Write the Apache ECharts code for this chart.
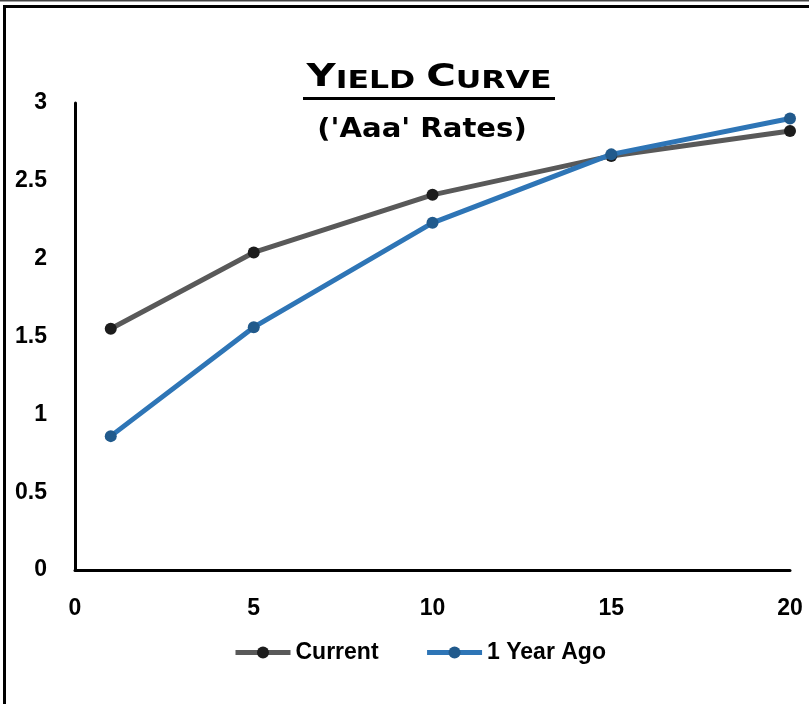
<!DOCTYPE html>
<html>
<head>
<meta charset="utf-8">
<script src="https://cdn.jsdelivr.net/npm/echarts@6/dist/echarts.min.js"></script>
<style>
  html, body { margin: 0; padding: 0; background: #fff; }
  #chart { width: 809px; height: 704px; }
</style>
</head>
<body>
<div id="chart"></div>
<script>
// Maturity (years) on the horizontal axis
const maturities = [1, 5, 10, 15, 20];
// 'Aaa' yields, percent
const currentRates = [1.55, 2.04, 2.41, 2.66, 2.82];
const yearAgoRates = [0.86, 1.56, 2.23, 2.67, 2.90];
const seriesNames = ['Current', '1 Year Ago'];
const titleText = 'YIELD CURVE';
const subtitleText = "('Aaa' Rates)";

const pairs = (xs, ys) => xs.map((x, i) => [x, ys[i]]);

const labelFont = {
  fontFamily: 'Liberation Sans',
  fontWeight: 'bold',
  fontSize: 23,
  color: '#000'
};

// Small-caps rendering of the title: first letter of each word large, rest small
const smallCaps = titleText.split(' ')
  .map(w => '{b|' + w[0] + '}{s|' + w.slice(1) + '}')
  .join('{s| }');

const chart = echarts.init(document.getElementById('chart'), null, { renderer: 'canvas' });

chart.setOption({
  animation: false,
  backgroundColor: '#fff',
  grid: { left: 75, right: 19, top: 103, bottom: 134, containLabel: false },
  xAxis: {
    type: 'value',
    min: 0, max: 20, interval: 5,
    splitLine: { show: false },
    axisTick: { show: false },
    axisLine: { show: true, onZero: false, lineStyle: { color: '#000', width: 3 } },
    axisLabel: Object.assign({ margin: 27 }, labelFont)
  },
  yAxis: {
    type: 'value',
    min: 0, max: 3, interval: 0.5,
    splitLine: { show: false },
    axisTick: { show: false },
    axisLine: { show: true, onZero: false, lineStyle: { color: '#000', width: 3 } },
    axisLabel: Object.assign({ margin: 28 }, labelFont)
  },
  legend: {
    left: 233,
    top: 641,
    padding: 0,
    itemWidth: 55,
    itemHeight: 15,
    itemGap: 46,
    lineStyle: { width: 5 },
    textStyle: labelFont,
    data: seriesNames
  },
  series: [
    {
      name: seriesNames[0],
      type: 'line',
      data: pairs(maturities, currentRates),
      symbol: 'circle',
      symbolSize: 12,
      lineStyle: { color: '#595959', width: 5 },
      itemStyle: { color: '#1c1c1c' },
      z: 2
    },
    {
      name: seriesNames[1],
      type: 'line',
      data: pairs(maturities, yearAgoRates),
      symbol: 'circle',
      symbolSize: 12,
      lineStyle: { color: '#2e75b6', width: 5 },
      itemStyle: { color: '#215a8c' },
      z: 3
    }
  ],
  graphic: [
    // cell grid line above the frame
    { type: 'rect', shape: { x: 0, y: 0, width: 809, height: 1.5 }, style: { fill: '#444' }, silent: true },
    // chart frame
    { type: 'rect', shape: { x: 4.5, y: 6.5, width: 900, height: 800 },
      style: { fill: null, stroke: '#000', lineWidth: 3 }, silent: true },
    // title in small caps
    {
      type: 'text', x: 429, y: 94, scaleX: 1.26,
      style: {
        text: smallCaps,
        align: 'center',
        verticalAlign: 'bottom',
        rich: {
          b: { fontFamily: 'DejaVu Sans', fontWeight: 'bold', fontSize: 32, fill: '#000', verticalAlign: 'bottom', lineHeight: 32 },
          s: { fontFamily: 'DejaVu Sans', fontWeight: 'bold', fontSize: 25, fill: '#000', verticalAlign: 'bottom', lineHeight: 32 }
        }
      }
    },
    // title underline
    { type: 'rect', shape: { x: 303, y: 97, width: 252, height: 3 }, style: { fill: '#000' }, silent: true },
    {
      type: 'text', x: 422, y: 130, scaleX: 1.12,
      style: {
        text: subtitleText,
        align: 'center',
        verticalAlign: 'middle',
        fontFamily: 'DejaVu Sans', fontWeight: 'bold', fontSize: 26, fill: '#000'
      }
    }
  ]
});
</script>
</body>
</html>
